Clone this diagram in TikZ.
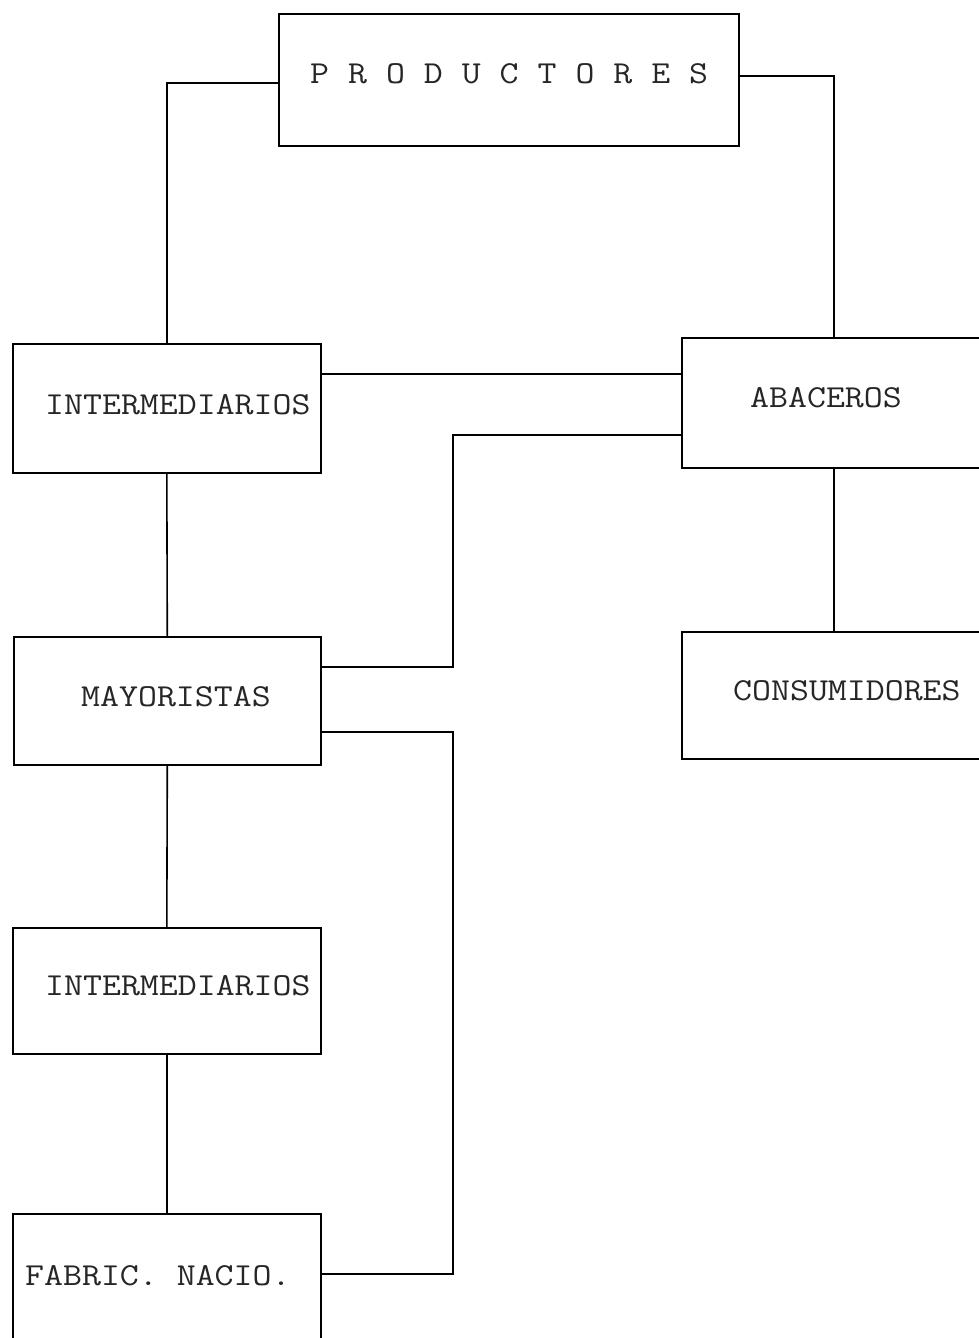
\documentclass[tikz,border=0pt]{standalone}
\usepackage{fontspec}
\newfontfamily\typew{Latin Modern Mono}[FakeStretch=1.15]
\begin{document}
\begin{tikzpicture}[x=1pt,y=-1pt,
  boxn/.style={draw=black,line width=1.6pt,rectangle,inner sep=0pt,anchor=north west},
  lbl/.style={anchor=base west,inner sep=0pt,text=black!85,font=\typew\fontsize{32}{33}\selectfont},
  conn/.style={draw=black,line width=1.6pt}]
\useasboundingbox (0,0) rectangle (979,1338);
\clip (0,0) rectangle (979,1338);
\fill[white] (0,0) rectangle (979,1338);
% boxes
\node[boxn,minimum width=460pt,minimum height=132pt] (P) at (278,13) {};
\node[boxn,minimum width=308pt,minimum height=129pt] (I1) at (12,343) {};
\node[boxn,minimum width=304pt,minimum height=130pt] (A) at (681,337) {};
\node[boxn,minimum width=307pt,minimum height=128pt] (M) at (13,636) {};
\node[boxn,minimum width=304pt,minimum height=127pt] (C) at (681,631) {};
\node[boxn,minimum width=308pt,minimum height=126pt] (I2) at (12,927) {};
\node[boxn,minimum width=308pt,minimum height=132pt] (F) at (12,1213) {};
% labels
\node[lbl] (tP) at (310,83) {P R O D U C T O R E S};
\node[lbl] (tI1) at (45,414) {INTERMEDIARIOS};
\node[lbl] (tA) at (750,407) {ABACEROS};
\node[lbl] (tM) at (81,706) {MAYORISTAS};
\node[lbl] (tC) at (733,700) {CONSUMIDORES};
\node[lbl] (tI2) at (45,995) {INTERMEDIARIOS};
\node[lbl] (tF) at (25,1285) {FABRIC. NACIO.};
% junction column
\coordinate (j) at (453,0);
% connectors
\draw[conn] ([yshift=-3pt]P.west) -| (I1.north);
\draw[conn] ([yshift=4pt]P.east) -| (A.north);
\draw[conn] ([yshift=34.5pt]I1.east) -- ([yshift=34.5pt]I1.east -| A.west);
\draw[conn] ([yshift=-32pt]A.west) -| ([yshift=34pt]M.east -| j) -- ([yshift=34pt]M.east);
\draw[conn] ([yshift=-31pt]M.east) -| ([yshift=6pt]F.east -| j) -- ([yshift=6pt]F.east);
\draw[conn] (I1.south) -- (M.north);
\draw[conn] (M.south) -- (I2.north);
\draw[conn] (I2.south) -- (F.north);
\draw[conn] (A.south) -- (C.north);
\end{tikzpicture}
\end{document}
